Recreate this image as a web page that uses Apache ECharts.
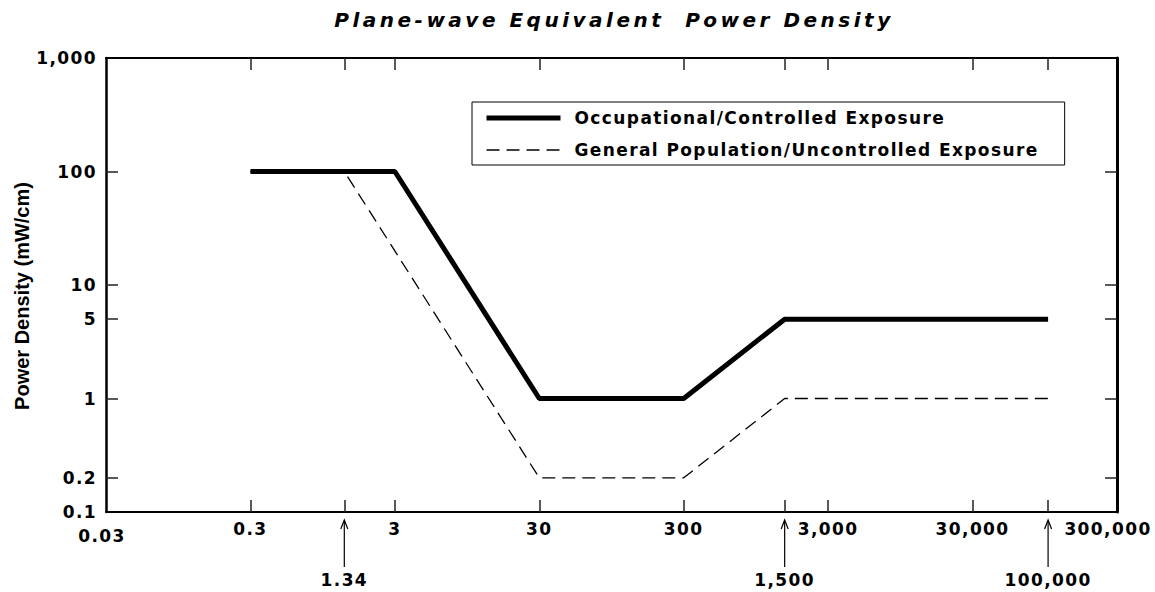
<!DOCTYPE html>
<html><head><meta charset="utf-8">
<script src="https://cdn.jsdelivr.net/npm/echarts@6/dist/echarts.min.js"></script>
<style>
html,body{margin:0;padding:0;background:#fff;}
#chart{width:1155px;height:592px;}
#chart svg text[style*="DejaVu"]{letter-spacing:1.4px;}
#chart svg text[style*="italic"]{letter-spacing:3.5px;}
</style></head><body><div id="chart"></div>
<script>
// ---- data ----
const occFreq = [0.3, 3, 30, 300, 1500, 100000];
const occDensity = [100, 100, 1, 1, 5, 5];
const genFreq = [0.3, 1.34, 30, 300, 1500, 100000];
const genDensity = [100, 100, 0.2, 0.2, 1, 1];
const xTickValues = [0.3, 1.34, 3, 30, 300, 1500, 3000, 30000, 100000];
const xLabelValues = [0.03, 0.3, 3, 30, 300, 3000, 30000, 300000];
const xLabelTexts = ['0.03', '0.3', '3', '30', '300', '3,000', '30,000', '300,000'];
const markerValues = [1.34, 1500, 100000];
const markerTexts = ['1.34', '1,500', '100,000'];
const yTickValues = [0.2, 1, 5, 10, 100];
const yLabelValues = [0.1, 0.2, 1, 5, 10, 100, 1000];
const yLabelTexts = ['0.1', '0.2', '1', '5', '10', '100', '1,000'];
const seriesNames = ['Occupational/Controlled Exposure', 'General Population/Uncontrolled Exposure'];

const FONT = 'DejaVu Sans';
function lookup(vals, texts, v) {
  for (let i = 0; i < vals.length; i++) {
    if (Math.abs(Math.log10(vals[i]) - Math.log10(v)) < 1e-6) return texts[i];
  }
  return '';
}
const tickStyle = { color: '#222', width: 1.5 };
const lbl = { color: '#000', fontFamily: FONT, fontWeight: 'bold', fontSize: 17 };
const occLine = { color: '#000', width: 5 };
const genLine = { color: '#000', width: 1.3, type: [13, 7] };

const chart = echarts.init(document.getElementById('chart'), null, { renderer: 'svg' });
chart.setOption({
  animation: false,
  backgroundColor: '#fff',
  title: {
    text: 'Plane-wave Equivalent  Power Density',
    left: 614, top: 10, textAlign: 'center', padding: 0,
    textStyle: { color: '#000', fontFamily: FONT, fontWeight: 'bold', fontStyle: 'italic', fontSize: 20 }
  },
  legend: {
    data: [
      { name: seriesNames[0], lineStyle: occLine },
      { name: seriesNames[1], lineStyle: genLine }
    ],
    orient: 'vertical',
    left: 472, top: 102,
    padding: [6, 82, 5, 12],
    itemGap: 12,
    itemWidth: 74, itemHeight: 14,
    itemStyle: { opacity: 0 },
    borderColor: '#000', borderWidth: 1,
    textStyle: Object.assign({ lineHeight: 20, padding: [0, 0, 0, 9] }, lbl)
  },
  grid: { left: 106, right: 38, top: 58, bottom: 80, containLabel: false },
  xAxis: [{
    type: 'log', logBase: 10, min: 0.03, max: 300000, position: 'bottom',
    axisLine: { onZero: false, lineStyle: { color: '#000', width: 2 } },
    axisTick: { inside: true, length: 12, customValues: xTickValues, lineStyle: tickStyle },
    minorTick: { show: false }, splitLine: { show: false },
    axisLabel: Object.assign({
      customValues: xLabelValues, margin: 8,
      formatter: function (v) {
        const t = lookup(xLabelValues, xLabelTexts, v);
        if (v < 0.05) return '{low|' + t + '}';
        if (v > 200000) return '{last|' + t + '}';
        return t;
      },
      rich: {
        low: Object.assign({ padding: [7, 8, 0, 0] }, lbl),
        last: Object.assign({ padding: [0, 18, 0, 0] }, lbl)
      }
    }, lbl)
  }, {
    type: 'log', logBase: 10, min: 0.03, max: 300000, position: 'top',
    axisLine: { onZero: false, lineStyle: { color: '#000', width: 2 } },
    axisTick: { inside: true, length: 12, customValues: xTickValues, lineStyle: tickStyle },
    minorTick: { show: false }, splitLine: { show: false },
    axisLabel: { show: false }
  }],
  yAxis: [{
    type: 'log', logBase: 10, min: 0.1, max: 1000, position: 'left',
    axisLine: { onZero: false, lineStyle: { color: '#000', width: 2.5 } },
    axisTick: { inside: true, length: 12, customValues: yTickValues, lineStyle: tickStyle },
    minorTick: { show: false }, splitLine: { show: false },
    axisLabel: Object.assign({
      customValues: yLabelValues, margin: 9,
      formatter: function (v) { return lookup(yLabelValues, yLabelTexts, v); }
    }, lbl)
  }, {
    type: 'log', logBase: 10, min: 0.1, max: 1000, position: 'right',
    axisLine: { onZero: false, lineStyle: { color: '#000', width: 3 } },
    axisTick: { inside: true, length: 12, customValues: yTickValues, lineStyle: tickStyle },
    minorTick: { show: false }, splitLine: { show: false },
    axisLabel: { show: false }
  }],
  series: [{
    name: seriesNames[1], type: 'line', symbol: 'none', z: 2,
    data: genFreq.map((f, i) => [f, genDensity[i]]),
    lineStyle: genLine,
    itemStyle: { color: '#000' }
  }, {
    name: seriesNames[0], type: 'line', symbol: 'none', z: 3,
    data: occFreq.map((f, i) => [f, occDensity[i]]),
    lineStyle: occLine,
    itemStyle: { color: '#000' }
  }]
});

// arrows below the axis for the breakpoint frequencies
const g = [];
markerValues.forEach(function (v, i) {
  const x = chart.convertToPixel({ xAxisIndex: 0 }, v);
  g.push({ type: 'line', shape: { x1: x, y1: 567, x2: x, y2: 521 }, style: { stroke: '#000', lineWidth: 1.2 } });
  g.push({ type: 'polyline', shape: { points: [[x - 3.5, 529], [x, 520], [x + 3.5, 529]] }, style: { stroke: '#000', lineWidth: 1.2, fill: null } });
  g.push({ type: 'text', x: x, y: 580, style: { text: markerTexts[i], fill: '#000', font: 'bold 17px ' + FONT, textAlign: 'center', textVerticalAlign: 'middle' } });
});
g.push({ type: 'text', x: 22, y: 296, rotation: Math.PI / 2,
  style: { text: 'Power Density (mW/cm)', fill: '#000', font: 'bold 20px Liberation Sans', textAlign: 'center', textVerticalAlign: 'middle' } });
chart.setOption({ graphic: g });
</script></body></html>
